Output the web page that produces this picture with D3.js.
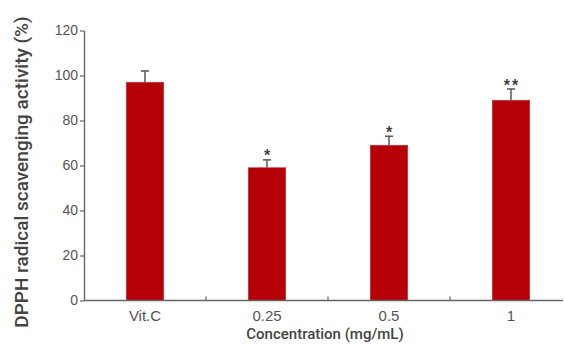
<!DOCTYPE html>
<html>
<head>
<meta charset="utf-8">
<script src="https://cdn.jsdelivr.net/npm/d3@7"></script>
<style>
  html, body { margin: 0; padding: 0; background: #fff; }
  svg { display: block; }
</style>
</head>
<body>
<svg id="chart" width="565" height="346"></svg>
<script>
// DPPH radical scavenging activity by concentration
const categories = ["Vit.C", "0.25", "0.5", "1"];
const activity = [97, 59, 69, 89];
const errors = [5, 3.5, 4, 5];
const significance = ["", "*", "*", "**"];
const yTicks = [0, 20, 40, 60, 80, 100, 120];

const svg = d3.select("#chart");
const plotLeft = 84, plotRight = 572, axisEnd = 563;
const plotTop = 30.5, plotBottom = 300.5;

const x = d3.scaleBand()
  .domain(categories)
  .range([plotLeft, plotRight])
  .paddingInner(0.693)
  .paddingOuter(0.3465);

const y = d3.scaleLinear().domain([0, 120]).range([plotBottom, plotTop]);

const tickColor = "#666";
const labelColor = "#555";

// y axis
const yAxis = svg.append("g")
  .attr("transform", `translate(${plotLeft},0)`)
  .call(d3.axisLeft(y).tickValues(yTicks).tickSize(4).tickPadding(2).tickSizeOuter(0));
yAxis.select(".domain").attr("stroke", tickColor).attr("stroke-width", 1.4);
yAxis.selectAll(".tick line").attr("stroke", tickColor).attr("stroke-width", 1.2);
yAxis.selectAll(".tick text")
  .attr("fill", labelColor)
  .style("font-family", "'Liberation Sans', Arial, sans-serif")
  .style("font-size", "14px");

// bars
svg.append("g").selectAll("rect")
  .data(categories)
  .join("rect")
  .attr("x", d => x(d))
  .attr("width", x.bandwidth())
  .attr("y", (d, i) => y(activity[i]))
  .attr("height", (d, i) => plotBottom - y(activity[i]))
  .attr("fill", "#b40006")
  .attr("stroke", "#c8323a")
  .attr("stroke-width", 0.6);

// error bars
const eb = svg.append("g").attr("stroke", "#555").attr("stroke-width", 1.5);
categories.forEach((c, i) => {
  const cx = x(c) + x.bandwidth() / 2;
  eb.append("line")
    .attr("x1", cx).attr("x2", cx)
    .attr("y1", y(activity[i])).attr("y2", y(activity[i] + errors[i]));
  eb.append("line")
    .attr("x1", cx - 4).attr("x2", cx + 4)
    .attr("y1", y(activity[i] + errors[i])).attr("y2", y(activity[i] + errors[i]));
});

// significance marks
svg.append("g").selectAll("text")
  .data(categories)
  .join("text")
  .attr("x", d => x(d) + x.bandwidth() / 2 + 1)
  .attr("y", (d, i) => y(activity[i] + errors[i]) + 1.5)
  .attr("text-anchor", "middle")
  .attr("fill", "#444")
  .style("font-family", "'Liberation Sans', Arial, sans-serif")
  .style("font-size", "16px")
  .style("font-weight", "bold")
  .attr("letter-spacing", "2px")
  .text((d, i) => significance[i]);

// x axis: line with inward ticks at band boundaries
const xg = svg.append("g");
xg.append("line")
  .attr("x1", plotLeft).attr("x2", axisEnd)
  .attr("y1", plotBottom).attr("y2", plotBottom)
  .attr("stroke", tickColor).attr("stroke-width", 1.4);
const step = x.step();
xg.selectAll("line.tk")
  .data(categories.slice(1))
  .join("line")
  .attr("class", "tk")
  .attr("x1", d => x(d) - x.paddingOuter() * step)
  .attr("x2", d => x(d) - x.paddingOuter() * step)
  .attr("y1", plotBottom).attr("y2", plotBottom - 4)
  .attr("stroke", tickColor).attr("stroke-width", 1.2);
xg.selectAll("text")
  .data(categories)
  .join("text")
  .attr("x", d => x(d) + x.bandwidth() / 2)
  .attr("y", plotBottom + 20)
  .attr("text-anchor", "middle")
  .attr("fill", labelColor)
  .style("font-family", "'Liberation Sans', Arial, sans-serif")
  .style("font-size", "15px")
  .text(d => d);

// axis titles
svg.append("text")
  .attr("x", 325)
  .attr("y", 339)
  .attr("text-anchor", "middle")
  .attr("fill", "#444")
  .style("font-family", "Roboto, 'Liberation Sans', sans-serif")
  .style("font-size", "15px")
  .style("font-weight", "500")
  .text("Concentration (mg/mL)");

svg.append("text")
  .attr("transform", "translate(28,172) rotate(-90)")
  .attr("text-anchor", "middle")
  .attr("fill", "#444")
  .style("font-family", "Roboto, 'Liberation Sans', sans-serif")
  .style("font-size", "19px")
  .style("font-weight", "500")
  .text("DPPH radical scavenging activity (%)");
</script>
</body>
</html>
